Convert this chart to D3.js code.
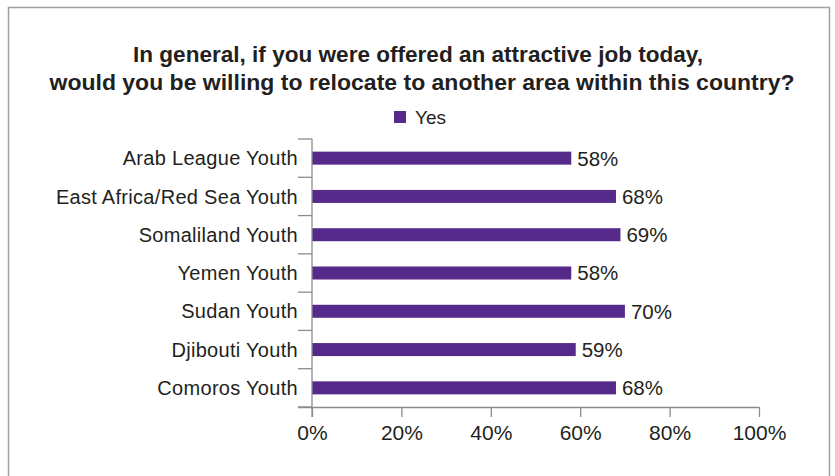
<!DOCTYPE html>
<html>
<head>
<meta charset="utf-8">
<script src="https://cdn.jsdelivr.net/npm/d3@7"></script>
<style>
  body { margin: 0; background: #fff; }
  text { font-family: "Liberation Sans", Arial, sans-serif; fill: #231f20; }
</style>
</head>
<body>
<div id="chart"></div>
<script>
// data
const categories = [
  "Arab League Youth",
  "East Africa/Red Sea Youth",
  "Somaliland Youth",
  "Yemen Youth",
  "Sudan Youth",
  "Djibouti Youth",
  "Comoros Youth"
];
const yesValues = [58, 68, 69, 58, 70, 59, 68];
const xTicks = [0, 20, 40, 60, 80, 100];
const seriesName = "Yes";
const titleLines = [
  "In general, if you were offered an attractive job today,",
  "would you be willing to relocate to another area within this country?"
];

const width = 835, height = 476;
const margin = { top: 139, right: 76, bottom: 69, left: 312 };
const barColor = "#562a8a";
const lineColor = "#8c8c8c";

const svg = d3.select("#chart").append("svg")
  .attr("width", width)
  .attr("height", height);

// frame
svg.append("rect")
  .attr("x", 8.5).attr("y", 7.5)
  .attr("width", 821).attr("height", 480)
  .attr("fill", "none")
  .attr("stroke", "#a0a0a0")
  .attr("stroke-width", 1.5);

// title (stretched a bit, the original face is wider than Liberation)
const titleWidths = [570, 745];
svg.append("g").selectAll("text")
  .data(titleLines)
  .join("text")
  .attr("x", (d, i) => i ? 422 : 418)
  .attr("y", (d, i) => 62 + i * 28)
  .attr("text-anchor", "middle")
  .attr("font-weight", "bold")
  .attr("font-size", "21.5px")
  .attr("textLength", (d, i) => titleWidths[i])
  .attr("lengthAdjust", "spacingAndGlyphs")
  .text(d => d);

// legend
const legend = svg.append("g").attr("transform", "translate(394,111)");
legend.append("rect")
  .attr("width", 12).attr("height", 12)
  .attr("fill", barColor);
legend.append("text")
  .attr("x", 21).attr("y", 12.5)
  .attr("font-size", "19px")
  .text(seriesName);

const x = d3.scaleLinear()
  .domain([0, 100])
  .range([margin.left, width - margin.right]);

const y = d3.scaleBand()
  .domain(categories)
  .range([margin.top, height - margin.bottom])
  .paddingInner(0.66)
  .paddingOuter(0.33);

const g = svg.append("g");

// category ticks at band boundaries
const step = y.step();
const boundaries = d3.range(categories.length + 1).map(i => margin.top + i * step);
g.selectAll("line.ctick")
  .data(boundaries)
  .join("line")
  .attr("class", "ctick")
  .attr("x1", margin.left - 14).attr("x2", margin.left)
  .attr("y1", d => d).attr("y2", d => d)
  .attr("stroke", lineColor).attr("stroke-width", 1.3);

// bars
g.selectAll("rect.bar")
  .data(yesValues)
  .join("rect")
  .attr("class", "bar")
  .attr("x", x(0))
  .attr("y", (d, i) => y(categories[i]))
  .attr("width", d => x(d) - x(0))
  .attr("height", y.bandwidth())
  .attr("fill", barColor);

// value labels
g.selectAll("text.val")
  .data(yesValues)
  .join("text")
  .attr("class", "val")
  .attr("x", d => x(d) + 6)
  .attr("y", (d, i) => y(categories[i]) + y.bandwidth() / 2)
  .attr("dy", "0.36em")
  .attr("font-size", "20.5px")
  .text(d => d + "%");

// category labels
g.selectAll("text.cat")
  .data(categories)
  .join("text")
  .attr("class", "cat")
  .attr("x", margin.left - 14)
  .attr("y", d => y(d) + y.bandwidth() / 2)
  .attr("dy", "0.36em")
  .attr("text-anchor", "end")
  .attr("font-size", "20px")
  .attr("letter-spacing", "0.3px")
  .text(d => d);

// y axis line
g.append("line")
  .attr("x1", margin.left).attr("x2", margin.left)
  .attr("y1", margin.top).attr("y2", height - margin.bottom + 10)
  .attr("stroke", lineColor).attr("stroke-width", 1.3);

// x axis
const xAxis = svg.append("g")
  .attr("transform", `translate(0,${height - margin.bottom})`)
  .call(d3.axisBottom(x).tickValues(xTicks).tickSize(10).tickPadding(0).tickFormat(d => d + "%"));
xAxis.select(".domain").attr("stroke", lineColor).attr("stroke-width", 1.3)
  .attr("d", `M${margin.left - 14},0.5H${x(100)}`);
xAxis.selectAll(".tick line").attr("stroke", lineColor).attr("stroke-width", 1.3);
xAxis.selectAll(".tick text")
  .attr("y", 33)
  .attr("dy", null)
  .attr("font-size", "21px")
  .attr("font-family", "Liberation Sans, Arial, sans-serif")
  .attr("fill", "#231f20");
</script>
</body>
</html>
